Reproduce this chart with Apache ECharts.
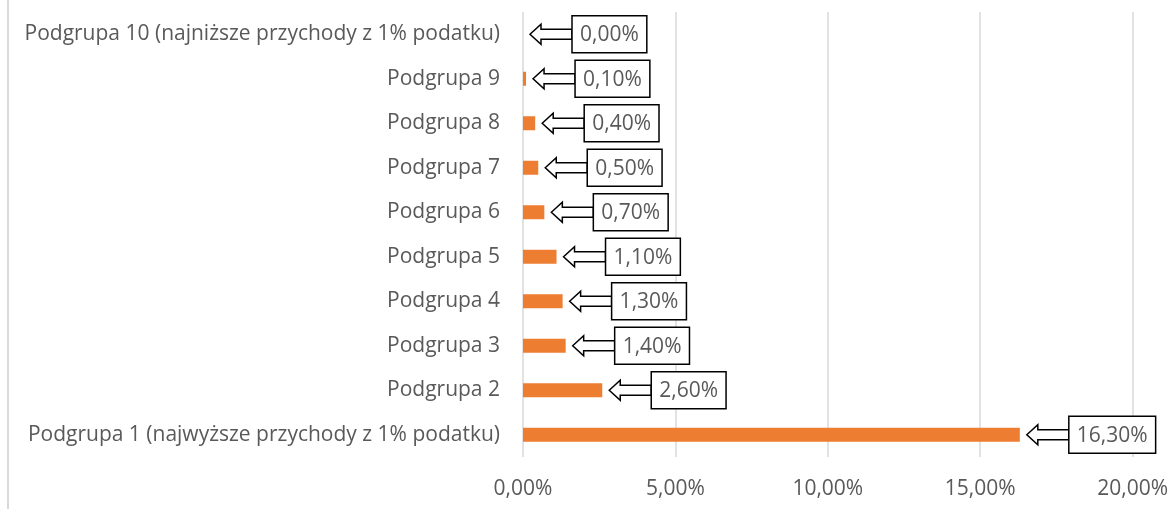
<!DOCTYPE html>
<html>
<head>
<meta charset="utf-8">
<script src="https://cdn.jsdelivr.net/npm/echarts@6/dist/echarts.min.js"></script>
<style>
  html, body { margin: 0; padding: 0; background: #fff; }
  #chart { width: 1171px; height: 509px; }
</style>
</head>
<body>
<div id="chart"></div>
<script>
// Data (bottom to top, as drawn)
const categories = [
    'Podgrupa 1 (najwyższe przychody z 1% podatku)',
    'Podgrupa 2',
    'Podgrupa 3',
    'Podgrupa 4',
    'Podgrupa 5',
    'Podgrupa 6',
    'Podgrupa 7',
    'Podgrupa 8',
    'Podgrupa 9',
    'Podgrupa 10 (najniższe przychody z 1% podatku)'
];
const shares = [16.3, 2.6, 1.4, 1.3, 1.1, 0.7, 0.5, 0.4, 0.1, 0.0];
const axisMin = 0;
const axisMax = 20;
const axisStep = 5;

const FONT_NAME = 'Open Sans';
const FONT = '"Open Sans", sans-serif';
const FONT_SIZE = 21;
const TEXT_GRAY = '#595959';

function fmtPct(v) {
    return v.toFixed(2).replace('.', ',') + '%';
}

// measure callout text so the box fits it
const measureCtx = document.createElement('canvas').getContext('2d');
function textWidth(str, size) {
    measureCtx.font = size + 'px "' + FONT_NAME + '"';
    return measureCtx.measureText(str).width;
}

// arrow + boxed value next to the end of each bar
function renderCallout(params, api) {
    const end = api.coord([api.value(0), api.value(1)]);
    const x = end[0] + 7;
    const y = end[1];
    const label = fmtPct(api.value(0));
    const boxX = x + 42;
    const boxW = textWidth(label, FONT_SIZE) + 16;
    const boxH = 37;
    return {
        type: 'group',
        children: [
            {
                type: 'polygon',
                shape: {
                    points: [
                        [x, y], [x + 11, y - 10], [x + 11, y - 5], [boxX, y - 5],
                        [boxX, y + 5], [x + 11, y + 5], [x + 11, y + 10]
                    ]
                },
                style: { fill: '#fff', stroke: '#000', lineWidth: 1.5 }
            },
            {
                type: 'rect',
                shape: { x: boxX, y: y - boxH / 2, width: boxW, height: boxH },
                style: { fill: '#fff', stroke: '#000', lineWidth: 1.5 }
            },
            {
                type: 'text',
                style: {
                    x: boxX + boxW / 2,
                    y: y + 1,
                    text: label,
                    fill: TEXT_GRAY,
                    font: FONT_SIZE + 'px "' + FONT_NAME + '"',
                    align: 'center',
                    verticalAlign: 'middle'
                }
            }
        ]
    };
}

const chart = echarts.init(document.getElementById('chart'));

chart.setOption({
    animation: false,
    backgroundColor: '#fff',
    grid: { left: 523, right: 36, top: 12, bottom: 52, containLabel: false },
    xAxis: {
        type: 'value',
        min: axisMin,
        max: axisMax,
        interval: axisStep,
        axisLine: { show: false },
        axisTick: { show: false },
        splitLine: { lineStyle: { color: '#d9d9d9', width: 1.5 } },
        axisLabel: {
            formatter: v => fmtPct(v),
            color: TEXT_GRAY,
            fontFamily: FONT,
            fontSize: FONT_SIZE,
            margin: 22
        }
    },
    yAxis: {
        type: 'category',
        data: categories,
        axisLine: { show: false },
        axisTick: { show: false },
        axisLabel: {
            color: TEXT_GRAY,
            fontFamily: FONT,
            fontSize: FONT_SIZE,
            margin: 23
        }
    },
    graphic: [{
        type: 'line',
        shape: { x1: 8, y1: 0, x2: 8, y2: 509 },
        style: { stroke: '#d9d9d9', lineWidth: 2 }
    }],
    series: [
        {
            type: 'bar',
            data: shares,
            barWidth: 14,
            itemStyle: { color: '#ED7D31' }
        },
        {
            type: 'custom',
            renderItem: renderCallout,
            clip: false,
            encode: { x: 0, y: 1 },
            data: shares.map((v, i) => [v, i]),
            z: 5
        }
    ]
});
</script>
</body>
</html>
